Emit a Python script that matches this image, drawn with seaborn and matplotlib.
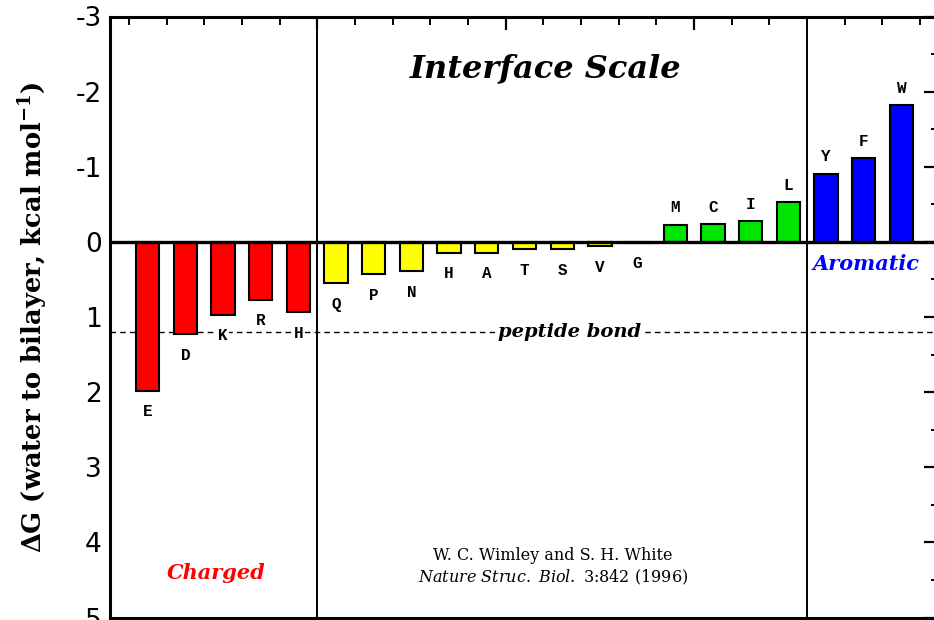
import numpy as np
import pandas as pd
import matplotlib
matplotlib.use('Agg')
import matplotlib.pyplot as plt
import seaborn as sns
from matplotlib.ticker import FixedLocator

# ==============================================================================
# DATA (Wimley-White interface scale)
# ==============================================================================
residues = ['E', 'D', 'K', 'R', 'H',
            'Q', 'P', 'N', 'H', 'A', 'T', 'S', 'V', 'G',
            'M', 'C', 'I', 'L',
            'Y', 'F', 'W']
dg_values = [1.98, 1.23, 0.97, 0.77, 0.94,
             0.55, 0.43, 0.39, 0.15, 0.15, 0.10, 0.10, 0.06, 0.01,
             -0.23, -0.24, -0.28, -0.53,
             -0.91, -1.11, -1.82]
groups = ['charged', 'charged', 'charged', 'charged', 'charged',
          'polar', 'polar', 'polar', 'polar', 'polar', 'polar', 'polar', 'polar', 'polar',
          'hydrophobic', 'hydrophobic', 'hydrophobic', 'hydrophobic',
          'aromatic', 'aromatic', 'aromatic']
group_colors = {'charged': '#ff0000', 'polar': '#ffff00',
                'hydrophobic': '#00e600', 'aromatic': '#0000ff'}

peptide_bond = 1.2
y_ticks = [-3, -2, -1, 0, 1, 2, 3, 4, 5]
group_breaks = [4.5, 17.5]

df = pd.DataFrame({'pos': np.arange(len(residues)), 'res': residues,
                   'dg': dg_values, 'group': groups})

# ==============================================================================
# PLOT
# ==============================================================================
sns.set_style('white')
plt.rcParams['axes.unicode_minus'] = False
plt.rcParams['mathtext.fontset'] = 'dejavuserif'
plt.rcParams['text.color'] = 'black'
plt.rcParams['axes.labelcolor'] = 'black'
plt.rcParams['xtick.color'] = 'black'
plt.rcParams['ytick.color'] = 'black'

fig = plt.figure(figsize=(9.34, 6.2), dpi=100)
ax = fig.add_axes([110 / 934, 1 - 617.5 / 620, 829 / 934, 601 / 620])

sns.barplot(data=df, x='pos', y='dg', hue='group', palette=group_colors,
            dodge=False, width=0.62, edgecolor='black', linewidth=1.5,
            saturation=1, errorbar=None, legend=False, ax=ax, zorder=3)

# reference lines
ax.axhline(0, color='black', linewidth=2.4, zorder=4)
ax.axhline(peptide_bond, color='black', linewidth=1.0, linestyle=(0, (4, 3)), zorder=1)
for xb in group_breaks:
    ax.axvline(xb, color='black', linewidth=1.4, zorder=2)

# residue letters
for p, r, v in zip(df['pos'], df['res'], df['dg']):
    off = -15 if v >= 0 else 12
    ax.annotate(r, (p, v), xytext=(0, off), textcoords='offset points',
                ha='center', va='center', fontsize=11.5, fontweight='bold',
                family='Liberation Mono', color='black', zorder=5,
                bbox=dict(boxstyle='square,pad=0.05', fc='white', ec='none'))

# axes
ax.set_xlim(-1, 21)
ax.set_ylim(5, -3)
ax.yaxis.set_major_locator(FixedLocator(y_ticks))
ax.yaxis.set_minor_locator(FixedLocator([t + 0.5 for t in y_ticks[:-1]]))
ax.xaxis.set_major_locator(FixedLocator([4.5, 9.5, 14.5]))
ax.xaxis.set_minor_locator(FixedLocator([i - 0.5 for i in range(22)]))
ax.set_xticklabels([])
ax.set_xlabel('')
ax.tick_params(axis='both', which='major', direction='in', length=11, width=1.6,
               top=True, right=True)
ax.tick_params(axis='both', which='minor', direction='in', length=6, width=1.4,
               top=True, right=True)
ax.tick_params(axis='y', which='major', labelsize=19, pad=6)
ax.tick_params(axis='x', which='major', length=9)
ax.set_yticklabels([str(t) for t in y_ticks], family='DejaVu Sans')
for s in ax.spines.values():
    s.set_linewidth(2.2)
    s.set_color('black')

ax.set_ylabel('ΔG (water to bilayer, kcal mol$^{\\mathbf{-1}}$)', fontsize=18.5,
              fontweight='bold', family='DejaVu Serif', labelpad=18)

# annotations
ax.text(10.55, -2.31, 'Interface Scale', ha='center', va='center', fontsize=23,
        fontweight='bold', style='italic', family='DejaVu Serif')
ax.text(11.2, peptide_bond, 'peptide bond', ha='center', va='center', fontsize=14,
        fontweight='bold', style='italic', family='DejaVu Serif', zorder=5,
        bbox=dict(boxstyle='square,pad=0.15', fc='white', ec='none'))
ax.text(1.83, 4.41, 'Charged', ha='center', va='center', fontsize=15, color='red',
        fontweight='bold', style='italic', family='DejaVu Serif')
ax.text(17.65, 0.29, 'Aromatic', ha='left', va='center', fontsize=15, color='blue',
        fontweight='bold', style='italic', family='DejaVu Serif')
ax.text(10.76, 4.18, 'W. C. Wimley and S. H. White', ha='center', va='center',
        fontsize=11.5, family='DejaVu Serif')
ax.text(10.76, 4.47, r'$\it{Nature\ Struc.\ Biol.\ 3}$:842 (1996)', ha='center',
        va='center', fontsize=11.5, family='DejaVu Serif')

fig.savefig('out.png', dpi=100)
